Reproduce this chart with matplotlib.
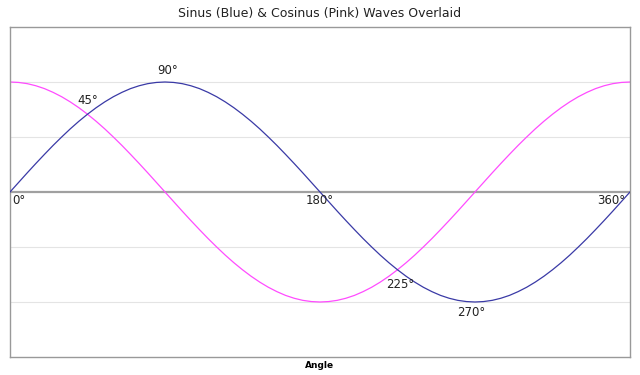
import matplotlib
matplotlib.use('Agg')
import matplotlib.pyplot as plt

# angles in degrees, 5 degree steps
angles = list(range(0, 365, 5))

sinus = [0, .087, .174, .259, .342, .423, .5, .574, .643, .707, .766, .819, .866, .906, .94, .966, .985, .996,
         1, .996, .985, .966, .94, .906, .866, .819, .766, .707, .643, .574, .5, .423, .342, .259, .174, .087,
         0, -.087, -.174, -.259, -.342, -.423, -.5, -.574, -.643, -.707, -.766, -.819, -.866, -.906, -.94, -.966, -.985, -.996,
         -1, -.996, -.985, -.966, -.94, -.906, -.866, -.819, -.766, -.707, -.643, -.574, -.5, -.423, -.342, -.259, -.174, -.087,
         0]

cosinus = [1, .996, .985, .966, .94, .906, .866, .819, .766, .707, .643, .574, .5, .423, .342, .259, .174, .087,
           0, -.087, -.174, -.259, -.342, -.423, -.5, -.574, -.643, -.707, -.766, -.819, -.866, -.906, -.94, -.966, -.985, -.996,
           -1, -.996, -.985, -.966, -.94, -.906, -.866, -.819, -.766, -.707, -.643, -.574, -.5, -.423, -.342, -.259, -.174, -.087,
           0, .087, .174, .259, .342, .423, .5, .574, .643, .707, .766, .819, .866, .906, .94, .966, .985, .996,
           1]

# labelled points (angle, value, text)
label_angles = [0, 45, 90, 180, 225, 270, 360]
label_values = [0, .707, 1, 0, -.707, -1, 0]
label_texts = ['0°', '45°', '90°', '180°', '225°', '270°', '360°']
label_offsets = [(9, -8), (0, 14), (3, 12), (0, -8), (3, -15), (-4, -11), (-19, -9)]

fig = plt.figure(figsize=(6.4, 3.75), dpi=100)
ax = fig.add_axes([10/640, 18/375, 620/640, 330/375])

for y in [-1, -0.5, 0.5, 1]:
    ax.axhline(y, color='#e4e4e4', lw=0.8, zorder=0)
ax.axhline(0, color='#a0a0a0', lw=1.6, zorder=1)

ax.plot(angles, sinus, color='#3a3aa6', lw=0.9, zorder=3)
ax.plot(angles, cosinus, color='#ff4cff', lw=0.9, zorder=2)

for a, v, t, off in zip(label_angles, label_values, label_texts, label_offsets):
    ax.annotate(t, (a, v), xytext=off, textcoords='offset pixels',
                ha='center', va='center', fontsize=8.5, color='#222222', zorder=4)

ax.set_xlim(0, 360)
ax.set_ylim(-1.5, 1.5)
ax.set_xticks([])
ax.set_yticks([])
for s in ax.spines.values():
    s.set_color('#999999')
    s.set_linewidth(1.0)

fig.text(0.5, 1 - 13/375, 'Sinus (Blue) & Cosinus (Pink) Waves Overlaid', ha='center', va='center',
         fontsize=9, color='#222222')
fig.text(0.5, 1 - 365/375, 'Angle', ha='center', va='center', fontsize=6.5, fontweight='bold')

plt.savefig('out.png', dpi=100)
